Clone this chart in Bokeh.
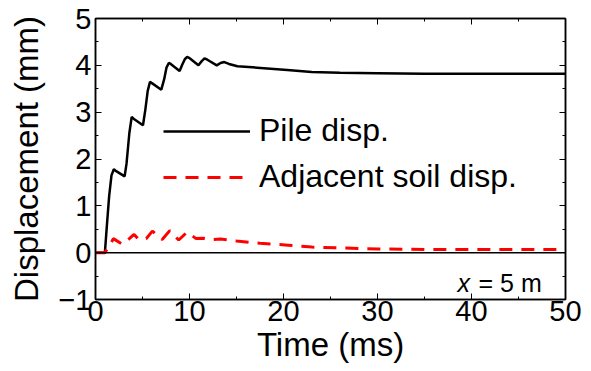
from bokeh.plotting import figure
from bokeh.models import (FixedTicker, LinearAxis, Range1d, Legend, LegendItem, Label, Span)
from bokeh.embed import file_html
from bokeh.resources import INLINE

# Pile displacement (mm) vs time (ms)
pile_t = [0, 1.0, 1.2, 1.45, 1.7, 1.95, 2.2, 3.1, 3.3, 3.6, 3.85, 4.05, 5.05, 5.3, 5.55, 5.8, 6.0, 7.0, 7.3, 7.55, 7.8, 8.0, 8.95, 9.2, 9.5, 9.75, 9.95, 10.95, 11.3, 11.6, 11.9, 12.9, 13.3, 13.7, 14.2, 15.1, 17.2, 20.4, 23.0, 26.0, 30.0, 35.0, 40.0, 45.0, 50.0]
pile_d = [0, 0, 0.55, 1.2, 1.65, 1.78, 1.74, 1.63, 1.9, 2.55, 2.90, 2.86, 2.72, 3.05, 3.45, 3.65, 3.62, 3.48, 3.7, 3.95, 4.05, 4.03, 3.88, 4.0, 4.13, 4.18, 4.16, 4.00, 4.09, 4.15, 4.12, 4.00, 4.05, 4.07, 4.03, 3.98, 3.95, 3.90, 3.86, 3.84, 3.83, 3.82, 3.82, 3.82, 3.82]

# Adjacent soil displacement (mm)
soil_t = [0, 1.0, 1.5, 1.9, 2.85, 3.6, 4.1, 4.6, 5.4, 6.05, 7.1, 7.9, 8.85, 9.75, 10.7, 11.4, 12.3, 13.3, 15.0, 17.5, 20.5, 23.0, 26.0, 30.0, 35.0, 40.0, 45.0, 50.0]
soil_d = [0, 0, 0.15, 0.30, 0.18, 0.30, 0.39, 0.28, 0.30, 0.46, 0.28, 0.47, 0.27, 0.44, 0.30, 0.31, 0.28, 0.29, 0.25, 0.20, 0.16, 0.12, 0.10, 0.08, 0.07, 0.07, 0.07, 0.07]

x_ticks = [0, 10, 20, 30, 40, 50]
x_minor = [5, 15, 25, 35, 45]
y_ticks = [-1, 0, 1, 2, 3, 4, 5]
y_minor = [-0.5, 0.5, 1.5, 2.5, 3.5, 4.5]

FONT = "Liberation Sans"

p = figure(width=591, height=371, output_backend="svg", toolbar_location=None,
           x_range=Range1d(0, 50), y_range=Range1d(-1, 5),
           min_border_left=95, min_border_right=26, min_border_top=18, min_border_bottom=72,
           x_axis_location=None, y_axis_location=None)
p.grid.visible = False
p.outline_line_color = "black"
p.outline_line_width = 1.5
p.background_fill_color = "white"
p.border_fill_color = "white"


def style_axis(ax, labels=True):
    ax.major_tick_in = 6
    ax.major_tick_out = 0
    ax.minor_tick_in = 3
    ax.minor_tick_out = 0
    ax.axis_line_color = "black"
    ax.axis_line_width = 1.5
    ax.major_tick_line_width = 1
    ax.minor_tick_line_width = 1
    if labels:
        ax.major_label_text_font = FONT
        ax.major_label_text_font_size = "29px"
        ax.major_label_text_color = "black"
        ax.axis_label_text_font = FONT
        ax.axis_label_text_font_size = "33px"
        ax.axis_label_text_font_style = "normal"
        ax.axis_label_text_color = "black"
    else:
        ax.major_label_text_font_size = "0px"
        ax.major_label_text_alpha = 0


xt = FixedTicker(ticks=x_ticks, minor_ticks=x_minor)
yt = FixedTicker(ticks=y_ticks, minor_ticks=y_minor)

xb = LinearAxis(ticker=xt, axis_label="Time (ms)")
style_axis(xb)
xb.major_label_standoff = 1
xb.axis_label_standoff = 2
p.add_layout(xb, "below")

xa = LinearAxis(ticker=xt)
style_axis(xa, labels=False)
p.add_layout(xa, "above")

yl = LinearAxis(ticker=yt, axis_label="Displacement (mm)")
style_axis(yl)
yl.major_label_standoff = 4
yl.axis_label_standoff = 10
p.add_layout(yl, "left")

yr = LinearAxis(ticker=yt)
style_axis(yr, labels=False)
p.add_layout(yr, "right")

p.add_layout(Span(location=0, dimension="width", line_color="black", line_width=1.5))

r_pile = p.line(pile_t, pile_d, line_color="black", line_width=2.5)
r_soil = p.line(soil_t, soil_d, line_color="red", line_width=3, line_dash="13 9")

legend = Legend(items=[LegendItem(label="Pile disp.", renderers=[r_pile]),
                       LegendItem(label="Adjacent soil disp.", renderers=[r_soil])],
                location=(68, 104), orientation="vertical",
                glyph_width=87, glyph_height=32, label_height=32, spacing=9,
                padding=0, margin=0, label_standoff=9,
                label_text_font=FONT, label_text_font_size="32px",
                label_text_color="black",
                border_line_alpha=0, background_fill_alpha=0)
p.add_layout(legend, "center")

p.add_layout(Label(x=362, y=17, x_units="screen", y_units="screen",
                   text="x", text_font=FONT, text_font_size="25px", text_font_style="italic",
                   text_color="black", text_baseline="alphabetic"))
p.add_layout(Label(x=383, y=17, x_units="screen", y_units="screen",
                   text="= 5 m", text_font=FONT, text_font_size="25px",
                   text_color="black", text_baseline="alphabetic"))

open("out.html", "w").write(file_html(p, INLINE))
